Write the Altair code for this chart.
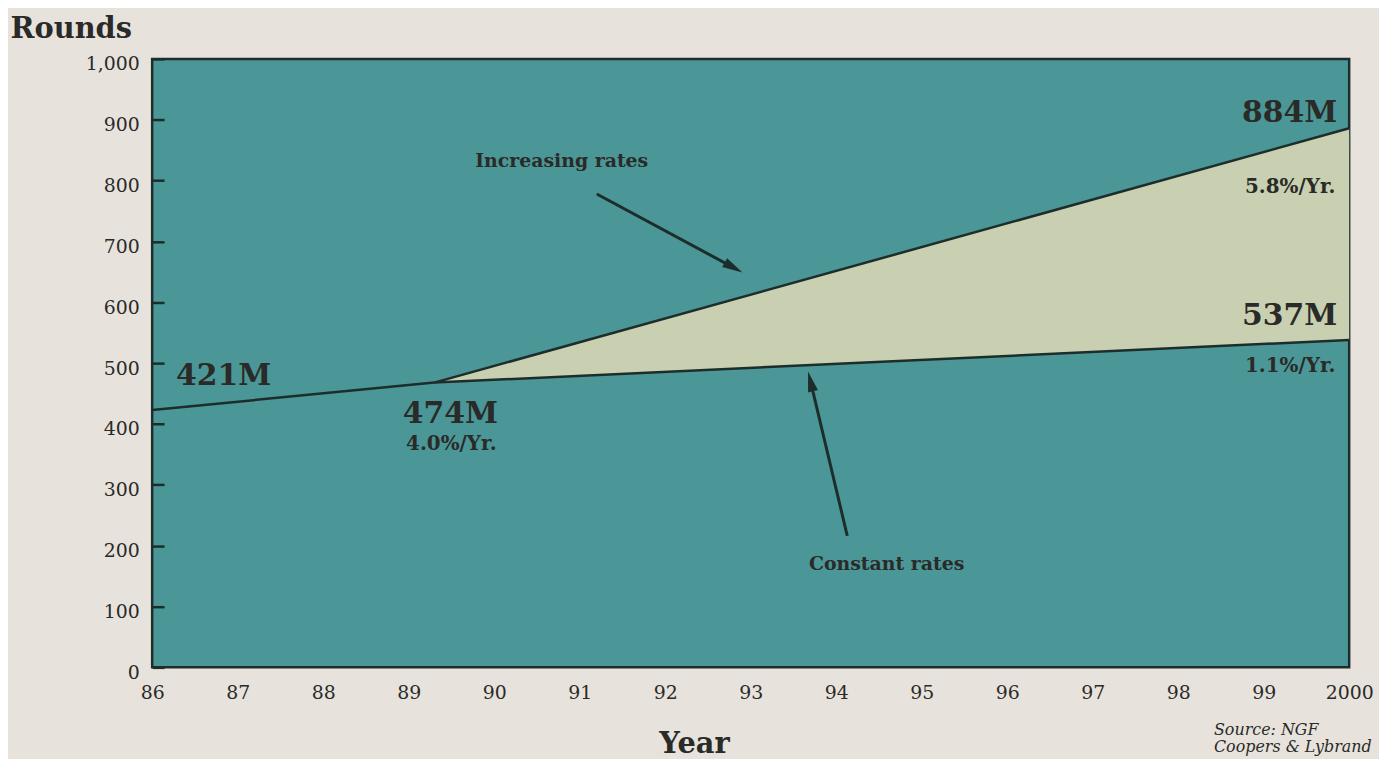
import altair as alt
import pandas as pd

# ---- data ----
base_years = [86, 89.3]
base_rounds = [423, 468]
fork_years = [89.3, 100]
constant_rounds = [468, 538]
increasing_rounds = [468, 886]

x_ticks = list(range(86, 101))
y_ticks = list(range(0, 1001, 100))

# annotation arrows (data units)
arrow_x1 = [91.2, 94.13]
arrow_y1 = [778, 216]
arrow_x2 = [92.8, 93.7]
arrow_y2 = [657, 470]
arrow_angle = [119, 346]

big_labels = ["421M", "474M"]
big_x = [86.28, 88.93]
big_y = [464, 402]
big_right_labels = ["884M", "537M"]
big_right_x = [99.86, 99.86]
big_right_y = [897, 562]
rate_left = ["4.0%/Yr."]
rate_left_x = [88.97]
rate_left_y = [358]
rate_right = ["5.8%/Yr.", "1.1%/Yr."]
rate_right_x = [99.84, 99.84]
rate_right_y = [779, 485]
callouts = ["Increasing rates", "Constant rates"]
callout_x = [90.79, 94.59]
callout_y = [823, 160]
source_text = "Source: NGF\nCoopers & Lybrand"

TEAL = "#4b9797"
FILL = "#c8d0b1"
BG = "#e7e3dc"
INK = "#2a2a28"
LINE = "#1d2d2b"
FONT = "DejaVu Serif"

lines = pd.DataFrame({
    "year": base_years + fork_years + fork_years,
    "rounds": base_rounds + constant_rounds + increasing_rounds,
    "series": ["base"] * 2 + ["constant"] * 2 + ["increasing"] * 2,
})
fork = pd.DataFrame({"year": fork_years, "rounds": constant_rounds, "hi": increasing_rounds})
arrows = pd.DataFrame({"x1": arrow_x1, "y1": arrow_y1, "x2": arrow_x2, "y2": arrow_y2, "ang": arrow_angle})

xs = alt.Scale(domain=[86, 100], nice=False, zero=False)
ys = alt.Scale(domain=[0, 1000], nice=False)

xaxis = alt.Axis(
    values=x_ticks, labelExpr="datum.value == 100 ? '2000' : datum.value",
    ticks=False, tickSize=0, domain=False, grid=False, labelPadding=16,
    labelFont=FONT, labelFontSize=19, labelColor=INK, labelFlush=False,
    title="Year", titleFont=FONT, titleFontSize=29, titleFontWeight="bold",
    titleColor=INK, titleX=545, titleY=86, titleBaseline="alphabetic",
    titleAlign="center")
yaxis = alt.Axis(
    values=y_ticks, format=",.0f", offset=-12, tickSize=12, tickWidth=2.5, tickColor=LINE,
    domain=False, grid=False, labelPadding=13, labelOffset=5, labelFlush=False,
    labelFont=FONT, labelFontSize=19, labelColor=INK,
    title="Rounds", titleAngle=0, titleAlign="left", titleBaseline="alphabetic",
    titleX=-155, titleY=-22, titleFont=FONT, titleFontSize=29, titleFontWeight="bold",
    titleColor=INK)


def X(f):
    return alt.X(f, scale=xs, axis=xaxis, title="Year")


def Y(f):
    return alt.Y(f, scale=ys, axis=yaxis, title="Rounds")


area = alt.Chart(fork).mark_area(color=FILL, opacity=1).encode(
    x=X("year:Q"), y=Y("rounds:Q"), y2="hi:Q")

line = alt.Chart(lines).mark_line(color=LINE, strokeWidth=2.5).encode(
    x=X("year:Q"), y=Y("rounds:Q"), detail="series:N")

rules = alt.Chart(arrows).mark_rule(color=LINE, strokeWidth=3).encode(
    x=X("x1:Q"), y=Y("y1:Q"), x2="x2:Q", y2="y2:Q")
heads = alt.Chart(arrows).mark_point(
    shape="M0,-1L0.5,1L-0.5,1Z", filled=True, color=LINE, opacity=1, size=420).encode(
    x=X("x2:Q"), y=Y("y2:Q"), angle=alt.Angle("ang:Q", scale=None))


def texts(labels, xv, yv, size, align):
    df = pd.DataFrame({"t": labels, "x": xv, "y": yv})
    return alt.Chart(df).mark_text(
        font=FONT, fontSize=size, fontWeight="bold", color=INK, align=align,
        baseline="alphabetic").encode(x=X("x:Q"), y=Y("y:Q"), text="t:N")


t1 = texts(big_labels, big_x, big_y, 30, "left")
t2 = texts(big_right_labels, big_right_x, big_right_y, 30, "right")
t3 = texts(rate_left, rate_left_x, rate_left_y, 20, "left")
t4 = texts(rate_right, rate_right_x, rate_right_y, 20, "right")
t5 = texts(callouts, callout_x, callout_y, 19, "center")

source = alt.Chart(pd.DataFrame({"t": [source_text]})).mark_text(
    font=FONT, fontSize=16, fontStyle="italic", color=INK, align="left", baseline="alphabetic",
    lineBreak="\n", lineHeight=17
).encode(x=alt.value(1068), y=alt.value(680), text="t:N")

chart = alt.layer(area, line, rules, heads, t1, t2, t3, t4, t5, source).properties(
    width=1204, height=612,
    autosize=alt.AutoSizeParams(type="none"),
    padding={"left": 145, "top": 49, "right": 30, "bottom": 90},
    background=BG,
).configure_view(fill=TEAL, stroke=LINE, strokeWidth=2.5)

chart.save("out.html", embed_options={"renderer": "svg", "actions": False})
